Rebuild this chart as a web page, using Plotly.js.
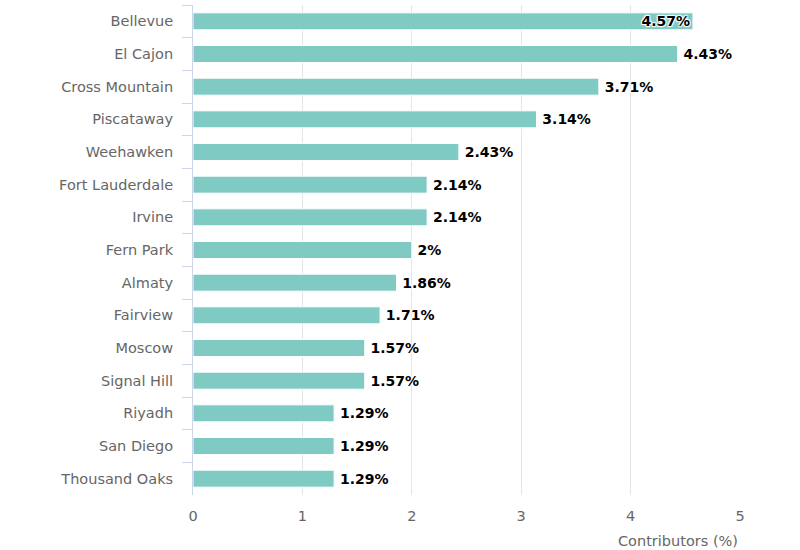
<!DOCTYPE html>
<html>
<head>
<meta charset="utf-8">
<script src="https://cdn.plot.ly/plotly-3.0.1.min.js"></script>
<style>html,body{margin:0;padding:0;background:#fff;}#chart{width:800px;height:550px;}</style>
</head>
<body>
<div id="chart"></div>
<script>
var cities = ["Bellevue","El Cajon","Cross Mountain","Piscataway","Weehawken","Fort Lauderdale","Irvine","Fern Park","Almaty","Fairview","Moscow","Signal Hill","Riyadh","San Diego","Thousand Oaks"];
var contributors = [4.57,4.43,3.71,3.14,2.43,2.14,2.14,2,1.86,1.71,1.57,1.57,1.29,1.29,1.29];
var xTicks = [0,1,2,3,4,5];
var axisTitle = "Contributors (%)";

var positions = contributors.map(function(v){ return v > 4.5 ? "inside" : "outside"; });
var labelFont = {family: "DejaVu Sans, sans-serif", size: 14, color: "#000000", weight: "bold",
  shadow: "1px 1px 1px #fff, -1px -1px 1px #fff, 1px -1px 1px #fff, -1px 1px 1px #fff"};

var trace = {
  type: "bar",
  orientation: "h",
  x: contributors,
  y: cities,
  marker: {color: "#7fcac3", line: {color: "#ffffff", width: 1}},
  texttemplate: contributors.map(function(v){ return v > 4.5 ? "%{x}%" : "\u2009%{x}%"; }),
  textposition: positions,
  insidetextanchor: "end",
  constraintext: "none",
  cliponaxis: false,
  textfont: labelFont,
  insidetextfont: labelFont,
  outsidetextfont: labelFont,
  hoverinfo: "none"
};

var layout = {
  width: 800, height: 550,
  margin: {l: 193, r: 60, t: 5, b: 55},
  paper_bgcolor: "#ffffff", plot_bgcolor: "#ffffff",
  showlegend: false,
  bargap: 0.48,
  font: {family: "DejaVu Sans, sans-serif", size: 14.5, color: "#666666"},
  xaxis: {
    range: [0, 5],
    tickvals: xTicks,
    ticktext: xTicks.map(String),
    showgrid: true, gridcolor: "#e6e6e6", gridwidth: 1,
    zeroline: false, showline: false, ticks: "",
    tickfont: {size: 14.5, color: "#666666"},
    ticklabelstandoff: 10,
    fixedrange: true
  },
  yaxis: {
    type: "category",
    autorange: "reversed",
    showline: true, linecolor: "#ccd6eb", linewidth: 1,
    ticks: "outside", tickson: "boundaries", ticklen: 10, tickcolor: "#ccd6eb",
    showgrid: false, zeroline: false,
    tickfont: {size: 14.5, color: "#666666"},
    ticklabelstandoff: 16,
    fixedrange: true
  },
  annotations: [{
    text: axisTitle, xref: "paper", yref: "paper", x: 1, y: 0,
    xanchor: "right", yanchor: "top", yshift: -36, showarrow: false,
    font: {size: 14.5, color: "#666666"}
  }]
};

Plotly.newPlot("chart", [trace], layout, {displayModeBar: false, staticPlot: true});
</script>
</body>
</html>
